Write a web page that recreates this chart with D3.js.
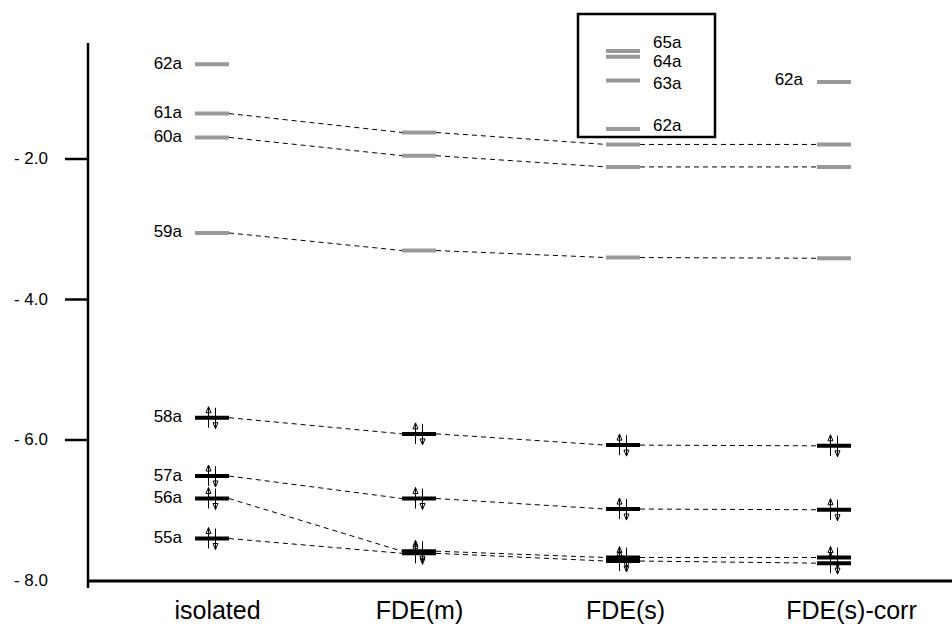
<!DOCTYPE html>
<html>
<head>
<meta charset="utf-8">
<script src="https://cdn.jsdelivr.net/npm/d3@7"></script>
<style>
  body { margin: 0; background: #fff; }
  svg { font-family: Arial, "Liberation Sans", Helvetica, sans-serif; }
</style>
</head>
<body>
<svg id="chart" width="952" height="626"></svg>
<script>
// orbital energies (eV), index = orbital
const columns = ["isolated", "FDE(m)", "FDE(s)", "FDE(s)-corr"]
const orbitals = ["55a", "56a", "57a", "58a", "59a", "60a", "61a", "62a"]
const occupied = ["55a", "56a", "57a", "58a"]
const isolated = [-7.41, -6.84, -6.52, -5.69, -3.06, -1.70, -1.36, -0.66]
const fdeM = [-7.62, -7.59, -6.84, -5.92, -3.31, -1.96, -1.63, null]
const fdeS = [-7.73, -7.68, -6.99, -6.08, -3.41, -2.12, -1.80, null]
const fdeSCorr = [-7.76, -7.68, -7.00, -6.09, -3.42, -2.12, -1.80, -0.91]
// high virtuals of FDE(s), shown in the boxed inset
const insetOrbitals = ["62a", "63a", "64a", "65a"]
const insetValues = [-1.58, -0.89, -0.55, -0.47]
const yTicks = [-2, -4, -6, -8]

const series = [isolated, fdeM, fdeS, fdeSCorr]

const svg = d3.select('#chart')
const x = d3.scaleOrdinal().domain(columns).range([212, 419, 623, 834])
const y = d3.scaleLinear().domain([-8, 0]).range([580, 18])
const half = 17 // half width of a level bar

// axes
const yAxis = d3.axisLeft(y).tickValues(yTicks).tickSize(23).tickPadding(17)
  .tickFormat(d => '- ' + Math.abs(d).toFixed(1))
const gy = svg.append('g').attr('transform', 'translate(88,0)').call(yAxis)
gy.select('.domain').remove()
gy.selectAll('.tick line').attr('stroke-width', 2.5)
  .filter(d => d === -8).remove()
gy.selectAll('.tick text').attr('font-size', 17).attr('font-family', null).attr('fill', '#000')
svg.append('line').attr('x1', 88).attr('x2', 88).attr('y1', 43).attr('y2', 588)
  .attr('stroke', '#000').attr('stroke-width', 2.5)

const xAxis = d3.axisBottom(x).tickSize(0).tickPadding(20)
const gx = svg.append('g').attr('transform', 'translate(0,581)').call(xAxis)
gx.select('.domain').remove()
const labelShift = [5, 0, 2, 17]
gx.selectAll('.tick text').attr('font-size', 25).attr('font-family', null).attr('fill', '#000')
  .attr('dx', (d, i) => labelShift[i])
svg.append('line').attr('x1', 88).attr('x2', 952).attr('y1', 581).attr('y2', 581)
  .attr('stroke', '#000').attr('stroke-width', 3)

// connectors between columns
const links = []
for (let c = 0; c < columns.length - 1; c++) {
  orbitals.forEach((o, k) => {
    const a = series[c][k], b = series[c + 1][k]
    if (a == null || b == null) return
    links.push({ c0: columns[c], c1: columns[c + 1], a, b })
  })
}
svg.append('g').selectAll('line').data(links).enter().append('line')
  .attr('x1', d => x(d.c0) + half).attr('y1', d => y(d.a))
  .attr('x2', d => x(d.c1) - half).attr('y2', d => y(d.b))
  .attr('stroke', '#000').attr('stroke-width', 1).attr('stroke-dasharray', '5,4')

// levels
const levels = []
columns.forEach((c, i) => {
  orbitals.forEach((o, k) => {
    const e = series[i][k]
    if (e == null) return
    levels.push({ col: c, orb: o, e, occ: occupied.includes(o) })
  })
})
insetOrbitals.forEach((o, k) => levels.push({ col: "FDE(s)", orb: o, e: insetValues[k], occ: false, inset: true }))

svg.append('g').selectAll('line').data(levels).enter().append('line')
  .attr('x1', d => x(d.col) - half).attr('x2', d => x(d.col) + half)
  .attr('y1', d => y(d.e)).attr('y2', d => y(d.e))
  .attr('stroke', d => d.occ ? '#000' : '#999').attr('stroke-width', 4)

// electron pairs
const occ = levels.filter(d => d.occ)
const arrows = svg.append('g').attr('stroke', '#000').attr('fill', 'none')
occ.forEach(d => {
  const cx = x(d.col), cy = y(d.e)
  const ux = cx - 3.5, dx = cx + 3.5
  arrows.append('line').attr('x1', ux).attr('x2', ux).attr('y1', cy + 10).attr('y2', cy - 11).attr('stroke-width', 1)
  arrows.append('path').attr('d', `M${ux - 2.5},${cy - 5}L${ux},${cy - 11}L${ux + 2.5},${cy - 5}Z`).attr('stroke-width', 1)
  arrows.append('line').attr('x1', dx).attr('x2', dx).attr('y1', cy - 10).attr('y2', cy + 11).attr('stroke-width', 1)
  arrows.append('path').attr('d', `M${dx - 2.5},${cy + 5}L${dx},${cy + 11}L${dx + 2.5},${cy + 5}Z`).attr('stroke-width', 1)
})

// orbital labels
const isoLabels = levels.filter(d => d.col === "isolated")
svg.append('g').selectAll('text').data(isoLabels).enter().append('text')
  .attr('x', x("isolated") - 30).attr('y', d => y(d.e) + 4.5)
  .attr('text-anchor', 'end').attr('font-size', 17).text(d => d.orb)

const corrTop = levels.filter(d => d.col === "FDE(s)-corr" && d.orb === "62a")
svg.append('g').selectAll('text').data(corrTop).enter().append('text')
  .attr('x', x("FDE(s)-corr") - 31).attr('y', d => y(d.e) + 3.5)
  .attr('text-anchor', 'end').attr('font-size', 17).text(d => d.orb)

const insetShift = { "62a": -4, "63a": 2, "64a": 4, "65a": -9 }
const insetLv = levels.filter(d => d.inset)
svg.append('g').selectAll('text').data(insetLv).enter().append('text')
  .attr('x', x("FDE(s)") + 30).attr('y', d => y(d.e) + 6 + insetShift[d.orb])
  .attr('font-size', 17).text(d => d.orb)

// inset frame
svg.append('rect').attr('x', x("FDE(s)") - 45).attr('y', 14)
  .attr('width', 137).attr('height', 123)
  .attr('fill', 'none').attr('stroke', '#000').attr('stroke-width', 2.5)
</script>
</body>
</html>
